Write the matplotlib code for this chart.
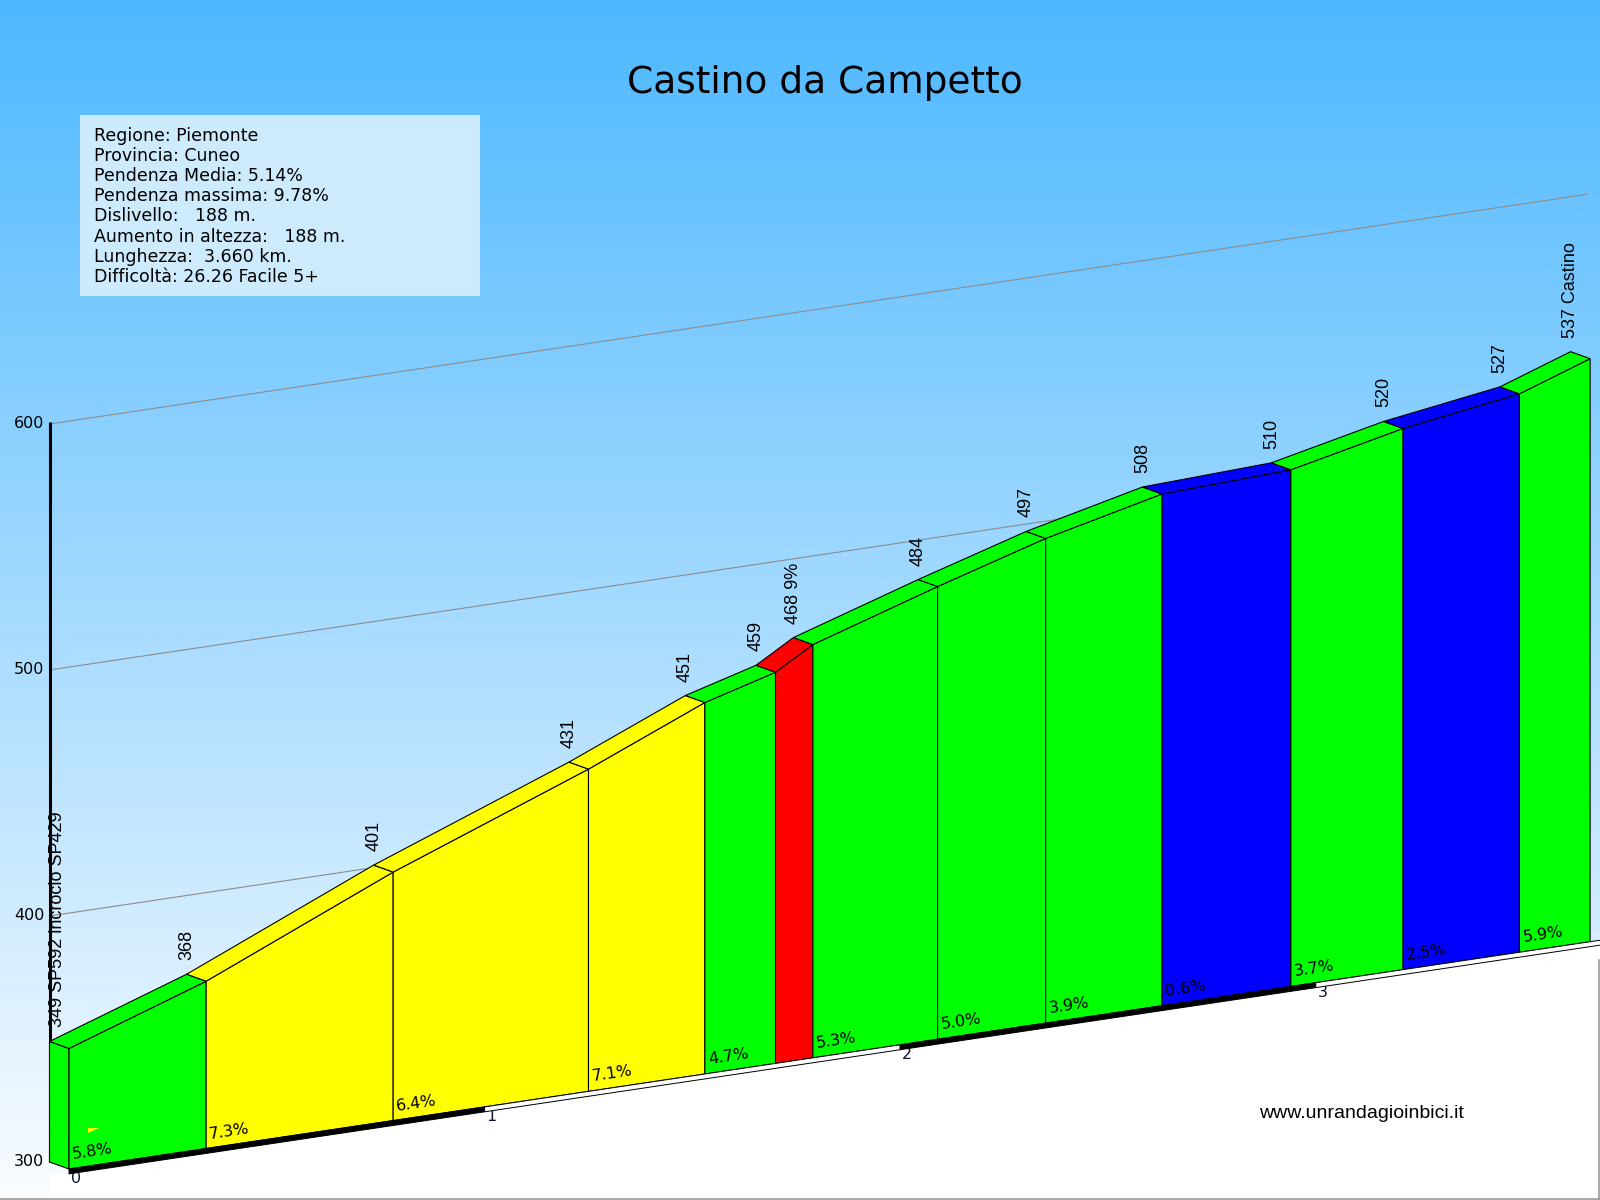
import numpy as np
import matplotlib

matplotlib.use("Agg")
from matplotlib import pyplot as plt
from matplotlib.patches import Polygon, Rectangle

TITLE = "Castino da Campetto"
info_lines = [
    "Regione: Piemonte",
    "Provincia: Cuneo",
    "Pendenza Media: 5.14%",
    "Pendenza massima: 9.78%",
    "Dislivello:   188 m.",
    "Aumento in altezza:   188 m.",
    "Lunghezza:  3.660 km.",
    "Difficoltà: 26.26 Facile 5+",
]
SITE = "www.unrandagioinbici.it"

# profile points (km from start, elevation in m)
dist_km = [0.0, 0.33, 0.78, 1.25, 1.53, 1.70, 1.79, 2.09, 2.35, 2.63, 2.94, 3.21, 3.49, 3.66]
elev_m = [349, 368, 401, 431, 451, 459, 468, 484, 497, 508, 510, 520, 527, 537]
point_labels = [
    "349 SP592 incrocio SP429", "368", "401", "431", "451", "459", "468 9%",
    "484", "497", "508", "510", "520", "527", "537 Castino",
]
# gradient of each segment
grade_pct = [5.8, 7.3, 6.4, 7.1, 4.7, 9.0, 5.3, 5.0, 3.9, 0.6, 3.7, 2.5, 5.9]
grade_labels = ["5.8%", "7.3%", "6.4%", "7.1%", "4.7%", "", "5.3%", "5.0%",
                "3.9%", "0.6%", "3.7%", "2.5%", "5.9%"]

BASE_ELEV = 300
tick_elevs = [300, 400, 500, 600]
grid_elevs = [400, 500, 600]
km_ticks = [0, 1, 2, 3]
RULER_END_KM = 3.72

# oblique projection (pixels of the 1600x1200 canvas)
KM_PX, M_PX, SHEAR = 415.6, 2.46, 62.1
ORIGIN_X, ORIGIN_Y = 69.0, 1169.0
DEPTH_X, DEPTH_Y = -19.5, -7.0
RULER_M = 2.0

EDGE_KW = dict(edgecolor="black", linewidth=0.8)


def project(km, elev, depth=0.0):
    km = np.asarray(km, dtype=float)
    elev = np.asarray(elev, dtype=float)
    x = ORIGIN_X + km * KM_PX + depth * DEPTH_X
    y = ORIGIN_Y - (elev - BASE_ELEV) * M_PX - km * SHEAR + depth * DEPTH_Y
    return x, y


def grade_color(pct):
    if pct < 3:
        return "#0000FF"
    if pct < 6:
        return "#00FF00"
    if pct < 9:
        return "#FFFF00"
    return "#FF0000"


def add_poly(ax, km, elev, depth, color, z, **kw):
    xs, ys = [], []
    for k, e, d in zip(km, elev, depth):
        x, y = project(k, e, d)
        xs.append(float(x))
        ys.append(float(y))
    ax.add_patch(Polygon(np.column_stack([xs, ys]), closed=True,
                         facecolor=color, zorder=z, **kw))


fig = plt.figure(figsize=(16, 12), dpi=100)
ax = fig.add_axes([0, 0, 1, 1])
ax.set_xlim(0, 1600)
ax.set_ylim(1200, 0)
ax.axis("off")

# sky gradient
top = np.array([77, 184, 255]) / 255
bottom = np.array([250, 252, 255]) / 255
t = np.linspace(0, 1, 256)[:, None]
grad = top + (bottom - top) * t
ax.imshow(grad[:, None, :], extent=(0, 1600, 1200, 0), aspect="auto", zorder=0)

# white ground below the ruler
gx, gy = project([0, RULER_END_KM], [BASE_ELEV - RULER_M] * 2, 0)
bx, _ = project(0, BASE_ELEV, 1)
ax.add_patch(Polygon([(float(bx), float(gy[0])), (float(gx[0]), float(gy[0])),
                      (float(gx[1]), float(gy[1])), (1600, float(gy[1])),
                      (1600, 1200), (float(bx), 1200)],
                     closed=True, facecolor="white", edgecolor="none", zorder=0.5))
ax.plot([1599, 1599], [960, 1199], color="#9a9a9a", lw=1.2, zorder=0.6)
ax.plot([0, 1600], [1198.5, 1198.5], color="#9a9a9a", lw=1.2, zorder=0.6)

# grid lines on the back plane
for e in grid_elevs:
    x, y = project([0, 3.7], [e, e], 1)
    ax.plot(x, y, color="#8c8c8c", lw=0.8, zorder=1)

# elevation axis
x, y = project([0, 0], [BASE_ELEV, 601], 1)
ax.plot(x, y, color="black", lw=2.2, zorder=1.5, solid_capstyle="butt")
for e in tick_elevs:
    x, y = project(0, e, 1)
    ax.text(float(x) - 5, float(y), str(e), ha="right", va="center",
            fontsize=11.5, color="black", zorder=2)

# left side face
first_color = grade_color(grade_pct[0])
add_poly(ax, [0, 0, 0, 0], [BASE_ELEV, elev_m[0], elev_m[0], BASE_ELEV],
         [1, 1, 0, 0], first_color, 3, **EDGE_KW)

# segments: front face + top face
for i, pct in enumerate(grade_pct):
    a, b = dist_km[i], dist_km[i + 1]
    ea, eb = elev_m[i], elev_m[i + 1]
    c = grade_color(pct)
    add_poly(ax, [a, b, b, a], [BASE_ELEV, BASE_ELEV, eb, ea], [0, 0, 0, 0], c, 3, **EDGE_KW)
    add_poly(ax, [a, b, b, a], [ea, eb, eb, ea], [0, 0, 1, 1], c, 3, **EDGE_KW)

# km labels (under the ruler)
for k in km_ticks:
    x, y = project(k, BASE_ELEV - RULER_M * 0.4, 0)
    ax.text(float(x) + 2, float(y), str(k), ha="left", va="top",
            fontsize=11.5, color="#10103a", zorder=3.5)

# ruler strip under the profile
edges = km_ticks + [RULER_END_KM]
for j in range(len(edges) - 1):
    a, b = edges[j], edges[j + 1]
    c = "black" if j % 2 == 0 else "white"
    add_poly(ax, [a, b, b, a], [BASE_ELEV, BASE_ELEV, BASE_ELEV - RULER_M, BASE_ELEV - RULER_M],
             [0, 0, 0, 0], c, 4, edgecolor="black", linewidth=0.7)

# elevation labels above each point
axis_x, _ = project(0, BASE_ELEV, 1)
for k, e, lab in zip(dist_km, elev_m, point_labels):
    x, y = project(k, e, 1)
    ax.text(max(float(x), float(axis_x) + 8.5), float(y) - 14, lab, rotation=90,
            ha="center", va="bottom", fontsize=13, family="Liberation Sans",
            color="black", zorder=5)

# gradient labels
angle = np.degrees(np.arctan(SHEAR / KM_PX))
for k, lab in zip(dist_km[:-1], grade_labels):
    if not lab:
        continue
    x, y = project(k, BASE_ELEV, 0)
    ax.text(float(x) + 4, float(y) - 10, lab, rotation=angle, rotation_mode="anchor",
            ha="left", va="baseline", fontsize=11.5, color="black", zorder=5)

# small start flag
fx, fy = project(0, BASE_ELEV, 0)
fx, fy = float(fx), float(fy)
ax.add_patch(Polygon([(fx + 19, fy - 41), (fx + 30, fy - 41), (fx + 19, fy - 36)],
                     closed=True, facecolor="#FFFF00", edgecolor="none", zorder=5))

# info box
ax.add_patch(Rectangle((80, 115), 400, 181, facecolor="#CDEBFD", edgecolor="none", zorder=2))
ax.text(94, 127, "\n".join(info_lines), ha="left", va="top", fontsize=12.5,
        linespacing=1.15, color="black", zorder=3)

ax.text(825, 93, TITLE, ha="center", va="baseline", fontsize=27, color="black", zorder=3)
ax.text(1361, 1113, SITE, ha="center", va="center", fontsize=14,
        family="Liberation Sans", color="black", zorder=3)

fig.savefig("out.png", dpi=100)
